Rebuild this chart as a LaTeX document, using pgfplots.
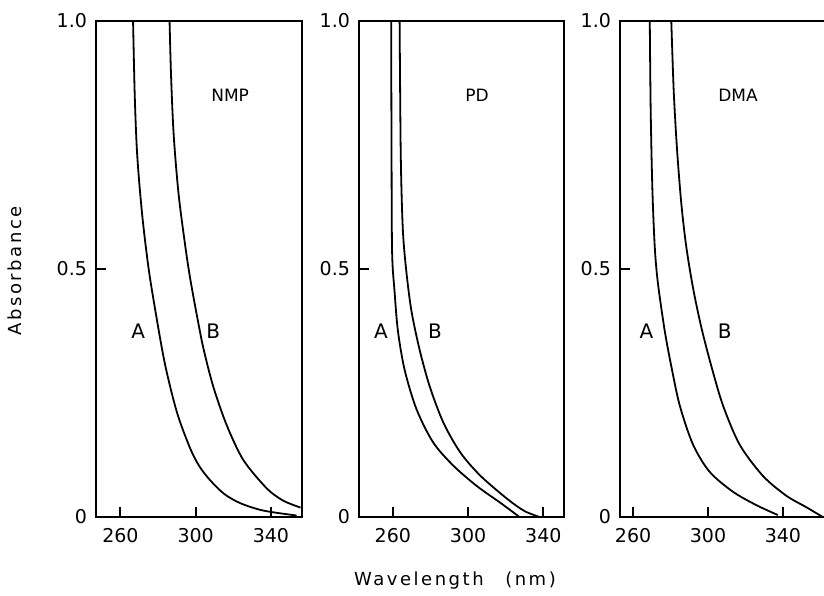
\documentclass[border=0pt]{standalone}
\usepackage{fontspec}
\setmainfont{DejaVu Sans}
\newfontfamily\spaced[LetterSpace=14]{DejaVu Sans}
\usepackage{pgfplots}
\pgfplotsset{compat=1.18}
\pgfplotsset{panel/.style={
  scale only axis, height=248pt, anchor=south west,
  axis line style={line width=1.2pt},
  tick style={line width=1pt, black},
  tick align=inside, major tick length=5pt,
  xtick pos=bottom, ytick pos=left,
  ymin=0, ymax=1,
  xtick={260,300,340}, xticklabels={260,300,340},
  ytick={0,0.5,1}, yticklabels={0,0.5,1.0},
  ticklabel style={font=\fontsize{9.5}{10}\selectfont},
  yticklabel style={xshift=-1pt},
  xticklabel style={yshift=-2pt},
  cycle list={{black}},
  every axis plot/.append style={line width=0.9pt, no marks, smooth},
  clip=true}}
\begin{document}
\begin{tikzpicture}
\useasboundingbox (0,0) rectangle (412pt,297.5pt);
% ---------------- NMP
\begin{axis}[panel, at={(48pt,39pt)}, width=103pt, xmin=247, xmax=356.5]
\addplot coordinates {(266.7,1.0) (267.6,0.849) (268.9,0.730) (271.5,0.611) (275.0,0.500) (279.4,0.397) (283.9,0.304) (290.1,0.210) (297.1,0.138) (302.0,0.102) (307.7,0.074) (315.0,0.047) (323.6,0.028) (335.9,0.013) (353.6,0.003)};
\addplot coordinates {(286.1,1.0) (286.9,0.889) (288.3,0.770) (290.9,0.651) (294.5,0.545) (297.1,0.480) (300.7,0.405) (304.1,0.340) (309.4,0.262) (316.5,0.185) (325.3,0.115) (337.7,0.058) (346.5,0.033) (355.7,0.019)};
\node[font=\fontsize{10}{11}\selectfont] at (axis cs:269.5,0.375) {A};
\node[font=\fontsize{10}{11}\selectfont] at (axis cs:309.3,0.375) {B};
\node[font=\fontsize{8.5}{9}\selectfont] at (axis cs:318.3,0.85) {NMP};
\end{axis}
% ---------------- PD
\begin{axis}[panel, at={(179.5pt,39pt)}, width=102.5pt, xmin=242, xmax=351]
\addplot coordinates {(259.1,1.0) (259.3,0.731) (259.6,0.534) (260.9,0.455) (262.7,0.375) (266.3,0.296) (272.6,0.217) (281.5,0.150) (292.3,0.103) (304.8,0.062) (317.4,0.028) (327.3,0.0)};
\addplot coordinates {(263.6,1.0) (264.2,0.731) (265.3,0.580) (267.2,0.494) (269.9,0.415) (274.3,0.336) (279.7,0.262) (286.9,0.190) (295.9,0.130) (306.6,0.083) (321.0,0.036) (330.0,0.012) (338.0,0.0)};
\node[font=\fontsize{10}{11}\selectfont] at (axis cs:253.7,0.375) {A};
\node[font=\fontsize{10}{11}\selectfont] at (axis cs:282.4,0.375) {B};
\node[font=\fontsize{8.5}{9}\selectfont] at (axis cs:304.8,0.85) {PD};
\end{axis}
% ---------------- DMA
\begin{axis}[panel, at={(310pt,39pt)}, width=102.5pt, xmin=253, xmax=362.5]
\addplot coordinates {(268.9,1.0) (269.4,0.818) (270.3,0.660) (271.6,0.542) (273.3,0.470) (276.9,0.375) (280.4,0.304) (284.9,0.225) (292.0,0.146) (300.9,0.091) (313.3,0.051) (325.8,0.024) (337.3,0.004)};
\addplot coordinates {(280.4,1.0) (281.7,0.858) (283.5,0.739) (285.8,0.630) (288.4,0.545) (292.0,0.462) (296.4,0.383) (301.8,0.304) (308.0,0.225) (316.9,0.146) (329.3,0.083) (341.8,0.043) (352.4,0.020) (361.3,0.0)};
\node[font=\fontsize{10}{11}\selectfont] at (axis cs:267.1,0.375) {A};
\node[font=\fontsize{10}{11}\selectfont] at (axis cs:308.9,0.375) {B};
\node[font=\fontsize{8.5}{9}\selectfont] at (axis cs:316,0.85) {DMA};
\end{axis}
\node[font=\spaced\fontsize{9}{10}\selectfont] at (227.5pt,7pt) {Wavelength\hspace{1.2em}(nm)};
\node[font=\spaced\fontsize{9}{10}\selectfont, rotate=90] at (7.5pt,162pt) {Absorbance};
\end{tikzpicture}
\end{document}
